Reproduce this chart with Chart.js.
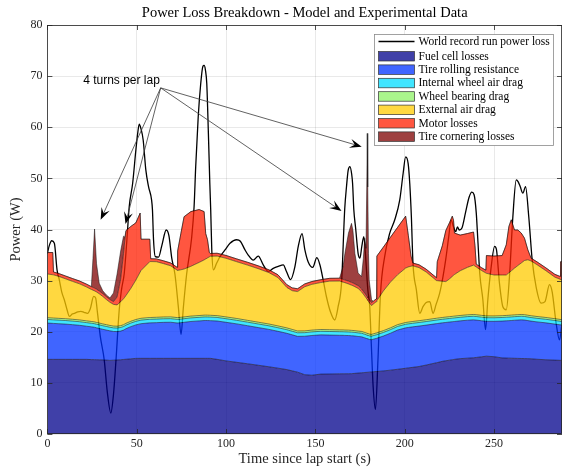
<!DOCTYPE html>
<html>
<head>
<meta charset="utf-8">
<script src="https://cdn.jsdelivr.net/npm/chart.js@4.4.1/dist/chart.umd.min.js"></script>
<style>
html,body{margin:0;padding:0;background:#fff;}
#c{display:block;}
</style>
</head>
<body>
<canvas id="c" width="563" height="468"></canvas>
<script>
// ---------------- DATA ----------------
const times = [
 0,3,3.4,6,10,14,18,22,24.6,25.5,
 26.4,27.5,29,31,33,35,37,39,41,42.6,
 43.3,44,46.7,49.5,51.9,52.4,57.3,57.8,61,65,
 69,72.6,72.9,74.7,76.5,80.3,84.9,87.7,88.6,89.6,
 90.6,91.2,95,100,106,112,118,124,129,134,
 137,140,144,148,153,158,163.5,165.5,166.5,168.5,
 170.2,171,172.1,173.9,175.8,176.8,177.6,178.3,178.8,179,
 179.3,179.7,180.1,181.4,182.3,184,184.4,188,192,196,
 200.5,202,203.5,204.5,208,212,217.8,218.2,221,223,
 225,226.6,227.3,227.8,231,235,238.5,239.3,240,243,
 245.4,245.7,250,254.5,256.8,258.3,259.6,261.4,263.3,265.2,
 267,268.9,270.7,274,279,284,286.9,287.2,288
];
const fuelCellLoss = [
 14.6,14.6,14.6,14.6,14.6,14.6,14.6,14.6,14.55,14.55,
 14.54,14.53,14.51,14.49,14.46,14.4,14.44,14.48,14.52,14.58,
 14.6,14.62,14.7,14.79,14.8,14.8,14.8,14.8,14.8,14.8,
 14.8,14.8,14.8,14.8,14.8,14.8,14.8,14.8,14.8,14.8,
 14.8,14.8,14.6,14.3,14.02,13.74,13.45,13.15,12.88,12.6,
 12.35,12.1,11.6,11.5,11.72,11.74,11.77,11.78,11.78,11.79,
 11.8,11.83,11.86,11.92,11.97,12.0,12.03,12.05,12.06,12.07,
 12.08,12.09,12.1,12.14,12.17,12.22,12.23,12.34,12.49,12.66,
 12.86,12.93,13.0,13.04,13.2,13.49,13.94,13.97,14.21,14.33,
 14.44,14.53,14.57,14.6,14.74,14.83,14.91,14.94,14.97,15.1,
 15.21,15.22,15.12,14.88,14.86,14.84,14.83,14.81,14.79,14.77,
 14.75,14.74,14.71,14.62,14.52,14.45,14.41,14.41,14.4
];
const rollingResistance = [
 7.1,7.04,7.03,6.98,6.9,6.79,6.66,6.48,6.41,6.37,
 6.33,6.24,6.14,5.99,5.87,5.78,5.62,5.55,5.62,5.74,
 5.86,5.98,6.3,6.55,6.74,6.78,6.94,6.94,6.98,7.04,
 7.06,6.92,6.91,6.97,7.05,7.21,7.32,7.39,7.4,7.39,
 7.38,7.37,7.5,7.55,7.52,7.44,7.37,7.31,7.21,7.1,
 7.05,7.0,7.52,7.77,7.67,7.61,7.54,7.52,7.5,7.47,
 7.42,7.37,7.3,7.16,7.04,6.9,6.78,6.67,6.6,6.57,
 6.52,6.47,6.4,6.3,6.36,6.48,6.51,6.82,7.22,7.68,
 7.9,7.91,7.91,7.92,7.91,7.81,7.65,7.64,7.53,7.49,
 7.46,7.43,7.42,7.41,7.39,7.43,7.42,7.36,7.31,7.05,
 6.85,6.83,6.92,7.21,7.28,7.33,7.37,7.44,7.5,7.56,
 7.54,7.44,7.37,7.31,7.22,7.05,6.95,6.93,6.9
];
const wheelAirDrag = [
 0.7,0.7,0.7,0.7,0.7,0.7,0.7,0.7,0.7,0.7,
 0.7,0.7,0.7,0.7,0.7,0.7,0.7,0.7,0.7,0.7,
 0.7,0.7,0.7,0.7,0.7,0.7,0.7,0.7,0.7,0.7,
 0.7,0.7,0.7,0.7,0.7,0.7,0.7,0.7,0.7,0.7,
 0.7,0.7,0.7,0.7,0.7,0.7,0.7,0.7,0.7,0.7,
 0.7,0.7,0.7,0.7,0.7,0.7,0.7,0.7,0.7,0.7,
 0.7,0.7,0.7,0.7,0.7,0.7,0.7,0.7,0.7,0.7,
 0.7,0.7,0.7,0.7,0.7,0.7,0.7,0.7,0.7,0.7,
 0.7,0.7,0.7,0.7,0.7,0.7,0.7,0.7,0.7,0.7,
 0.7,0.7,0.7,0.7,0.7,0.7,0.7,0.7,0.7,0.7,
 0.7,0.7,0.7,0.7,0.7,0.7,0.7,0.7,0.7,0.7,
 0.7,0.7,0.7,0.7,0.7,0.7,0.7,0.7,0.7
];
const bearingDrag = [
 0.35,0.35,0.35,0.35,0.35,0.35,0.35,0.35,0.35,0.35,
 0.35,0.35,0.35,0.35,0.35,0.35,0.35,0.35,0.35,0.35,
 0.35,0.35,0.35,0.35,0.35,0.35,0.35,0.35,0.35,0.35,
 0.35,0.35,0.35,0.35,0.35,0.35,0.35,0.35,0.35,0.35,
 0.35,0.35,0.35,0.35,0.35,0.35,0.35,0.35,0.35,0.35,
 0.35,0.35,0.35,0.35,0.35,0.35,0.35,0.35,0.35,0.35,
 0.35,0.35,0.35,0.35,0.35,0.35,0.35,0.35,0.35,0.35,
 0.35,0.35,0.35,0.35,0.35,0.35,0.35,0.35,0.35,0.35,
 0.35,0.35,0.35,0.35,0.35,0.35,0.35,0.35,0.35,0.35,
 0.35,0.35,0.35,0.35,0.35,0.35,0.35,0.35,0.35,0.35,
 0.35,0.35,0.35,0.35,0.35,0.35,0.35,0.35,0.35,0.35,
 0.35,0.35,0.35,0.35,0.35,0.35,0.35,0.35,0.35
];
const externalAirDrag = [
 8.55,8.46,8.45,8.25,7.82,7.42,7.06,6.61,6.26,6.16,
 6.07,5.96,5.73,5.37,4.92,4.53,4.24,4.17,4.68,5.08,
 5.24,5.45,6.43,7.71,9.07,9.35,10.92,10.94,10.87,10.43,
 9.99,9.28,9.25,9.3,9.37,9.74,10.39,10.81,10.98,11.2,
 11.41,11.54,11.65,11.47,11.1,10.81,10.47,10.05,9.46,7.91,
 7.58,7.71,8.63,8.95,9.19,9.5,9.56,9.35,9.27,9.04,
 8.84,8.75,8.59,8.34,7.77,7.41,7.13,6.88,6.68,6.6,
 6.49,6.32,6.17,5.64,5.81,6.12,6.28,7.76,8.95,9.76,
 10.65,10.79,10.85,10.88,10.38,9.33,7.36,7.33,7.09,6.94,
 7.38,7.81,8.0,8.13,8.74,9.27,9.65,9.49,9.34,8.77,
 8.38,8.33,8.01,7.96,7.91,8.31,8.66,9.13,9.61,10.07,
 10.59,10.85,10.71,10.14,9.15,8.13,7.86,7.85,7.8
];
const motorLoss = [
 4.2,4.35,0.55,0.55,0.55,0.55,0.55,0.55,0.55,0.55,
 0.55,0.55,0.55,0.55,0.55,0.55,0.55,1.55,4.43,8.85,
 11.05,12.7,12.12,11.2,11.54,6.12,4.39,0.55,0.55,0.55,
 0.55,0.55,3.79,7.08,10.23,10.7,10.34,9.45,4.97,3.56,
 0.86,0.55,0.55,0.55,0.55,0.55,0.55,0.55,0.55,0.55,
 0.55,0.55,0.55,0.55,0.55,0.55,0.55,0.55,0.55,0.55,
 0.55,0.55,0.55,0.55,0.55,0.55,0.55,0.55,0.55,0.55,
 0.55,0.55,0.55,0.55,0.55,0.55,8.73,8.57,8.77,9.27,
 10.14,6.12,1.99,0.55,0.55,0.55,0.55,3.71,6.92,9.99,
 10.97,11.78,10.76,8.11,6.98,6.62,6.47,3.96,0.55,0.55,
 0.55,3.47,3.7,3.8,5.9,9.07,9.99,7.47,6.95,5.85,
 4.37,1.92,0.55,0.55,0.55,0.55,0.55,3.46,3.65
];
const corneringLoss = [
 0,0,0,0,0,0,0,0,0,5.62,
 11.56,4.97,1.52,0.55,0.35,0.3,1.7,4.5,5.5,3.4,
 0.7,0,0,0,0,0,0,0,0,0,
 0,0,0,0,0,0,0,0,0,0,
 0,0,0,0,0,0,0,0,0,0,
 0,0,0,0,0,0,0,2.55,5.15,9.4,
 11.54,10.25,5.95,2.48,2.42,6.39,10.76,9.1,23.36,31.96,
 21.61,8.82,3.83,0.62,0,0,0,0,0,0,
 0,0,0,0,0,0,0,0,0,0,
 0,0,0,0,0,0,0,0,0,0,
 0,0,0,0,0,0,0,0,0,0,
 0,0,0,0,0,0,0,0,0
];
const recordTime = [
 0,1,2.4,3.9,5.4,6.7,8,9.5,11,12.3,
 14,15.1,17,18.8,20.5,22.5,24,25.9,27,28,
 29.6,31.8,33.5,35.5,37,38.4,40.2,41.5,43,44.5,
 45.8,47.7,49.5,50.6,51.4,52.3,53.6,55.1,56.6,58.3,
 58.8,59.4,60.4,62.2,64,66.5,68,69.6,71.4,73.3,
 74.8,76.1,77.9,80.7,82.1,83,84.4,85.8,87,87.7,
 88.4,89.2,90.1,90.9,91.4,92,92.9,94.7,96.6,99.4,
 102.2,105.9,108,110.6,112.4,115.2,118,120.8,123.6,126.4,
 129.2,132,133.8,136.1,138.5,140.4,142.5,144.1,145.9,148.5,
 150.8,152.5,154.3,156.2,158.5,160.8,162.7,164.6,166.4,167.4,
 168.3,169.3,170.3,170.8,171.5,172.5,173.9,174.9,176,177.1,
 178.2,179.3,180.4,181.4,182.3,183.6,185,186.4,188.8,191.6,
 194.4,197.2,199.1,200.5,201.9,202.8,203.7,204.6,206.5,208.4,
 210.2,212,214,215.8,217.5,219.5,221.4,223,224.5,226,
 227,228.5,229.5,230.5,232,234,236,237.5,238.8,240,
 241,242,243.7,245.2,246.5,248.2,250.3,251.3,253,254.9,
 256.8,258.6,260.5,262.4,263.5,264.6,266.1,267.6,269.4,271.3,
 273.5,276.3,278.5,281,282.5,284.7,286.6,288
];
const recordPower = [
 35.3,36.8,37.8,37.3,32.1,30.1,27.8,26.2,24.3,23.0,
 23.5,23.6,23.9,24.0,23.8,23.6,24.5,26.9,26.6,23.8,
 19.1,14.5,8.3,4.1,7.8,14.5,24.3,28.3,31.4,38.0,
 44.5,49.0,55.5,59.0,60.6,59.8,57.5,51.6,48.4,45.8,
 43.8,38.0,34.7,34.6,36.8,39.9,38.8,34.4,31.2,24.8,
 19.5,24.8,31.2,38.3,44.5,52.3,62.0,68.5,71.9,72.1,
 71.3,68.5,58.8,49.0,43.8,36.0,32.1,33.4,34.7,36.0,
 37.3,38.0,37.7,36.0,35.0,34.0,34.8,33.1,31.8,32.4,
 32.8,33.1,31.8,30.2,32.7,36.7,39.2,36.0,33.7,32.6,
 34.5,33.1,30.2,26.8,23.8,22.3,24.9,29.5,44.0,48.4,
 51.5,52.3,50.8,49.0,43.8,40.3,35.3,34.4,36.8,38.6,
 34.1,28.3,24.9,16.5,9.3,4.8,14.5,27.3,34.8,39.3,
 41.9,45.8,51.0,54.2,52.9,49.0,42.5,33.4,28.2,23.6,
 24.9,25.7,25.9,23.6,25.3,27.5,30.8,34.3,38.3,41.9,
 40.8,39.6,40.5,39.9,40.3,43.3,46.3,47.3,46.8,43.3,
 37.3,31.3,26.3,20.4,26.3,32.2,36.7,36.1,29.5,24.9,
 24.3,30.8,42.5,49.7,49.3,48.4,47.1,48.4,42.5,34.1,
 28.8,25.6,25.9,29.2,27.8,21.7,18.4,21.7
];
const seriesLabels = ['Fuel cell losses','Tire rolling resistance','Internal wheel air drag',
  'Wheel bearing drag','External air drag','Motor losses','Tire cornering losses'];
const recordLabel = 'World record run power loss';
const xTickValues = [0,50,100,150,200,250];
const yTickValues = [0,10,20,30,40,50,60,70,80];
const annotationText = '4 turns per lap';
const annotationTextAt = [20.0, 69.1];
const annotationOrigin = [63.4, 67.7];
const annotationTargets = [[29.8,41.9],[43.7,41.1],[164.6,43.6],[175.9,56.2]];

// ---------------- STYLE ----------------
const SERIF = '"Liberation Serif","Times New Roman",serif';
const fillColors = ['rgba(0,0,139,0.75)','rgba(0,50,255,0.75)','rgba(0,220,255,0.75)',
  'rgba(141,241,101,0.75)','rgba(255,203,0,0.75)','rgba(255,30,0,0.75)','rgba(125,0,0,0.75)'];
const seriesValues = [fuelCellLoss,rollingResistance,wheelAirDrag,bearingDrag,externalAirDrag,motorLoss,corneringLoss];

const areaDatasets = seriesValues.map((vals,i)=>({
  label: seriesLabels[i],
  data: times.map((t,k)=>({x:t, y:vals[k]})),
  stack: 'losses',
  fill: i===0 ? 'origin' : '-1',
  backgroundColor: fillColors[i],
  borderColor: 'rgba(0,0,0,0.8)',
  borderWidth: 0.6,
  pointRadius: 0,
  tension: 0
}));
const recordDataset = {
  label: recordLabel,
  data: recordTime.map((t,k)=>({x:t, y:recordPower[k]})),
  stack: 'record',
  fill: false,
  borderColor: '#000',
  borderWidth: 1.3,
  pointRadius: 0,
  cubicInterpolationMode: 'monotone'
};

const matlabAxes = {
  id: 'matlabAxes',
  afterDatasetsDraw(chart){
    const {ctx, chartArea:a, scales:{x,y}} = chart;
    ctx.save();
    ctx.strokeStyle = '#262626';
    ctx.lineWidth = 0.8;
    ctx.beginPath();
    xTickValues.forEach(v=>{
      const px = Math.round(x.getPixelForValue(v))+0.5;
      ctx.moveTo(px,a.bottom); ctx.lineTo(px,a.bottom-5);
      ctx.moveTo(px,a.top); ctx.lineTo(px,a.top+5);
    });
    yTickValues.forEach(v=>{
      const py = Math.round(y.getPixelForValue(v))+0.5;
      ctx.moveTo(a.left,py); ctx.lineTo(a.left+5,py);
      ctx.moveTo(a.right,py); ctx.lineTo(a.right-5,py);
    });
    ctx.stroke();
    ctx.strokeRect(Math.round(a.left)+0.5, Math.round(a.top)+0.5,
      Math.round(a.right)-Math.round(a.left)-1, Math.round(a.bottom)-Math.round(a.top)-1);
    ctx.restore();
  },
  afterDraw(chart){
    const {ctx, scales:{x,y}} = chart;
    ctx.save();
    // annotation arrows
    const ox = x.getPixelForValue(annotationOrigin[0]);
    const oy = y.getPixelForValue(annotationOrigin[1]);
    annotationTargets.forEach(([tx,ty])=>{
      const px = x.getPixelForValue(tx), py = y.getPixelForValue(ty);
      const dx = px-ox, dy = py-oy, len = Math.hypot(dx,dy);
      const ux = dx/len, uy = dy/len, nx = -uy, ny = ux;
      const L = 12, W = 9;
      ctx.strokeStyle = '#3a3a3a'; ctx.lineWidth = 0.8;
      ctx.beginPath(); ctx.moveTo(ox,oy); ctx.lineTo(px-ux*L*0.6, py-uy*L*0.6); ctx.stroke();
      ctx.fillStyle = '#000';
      ctx.beginPath();
      ctx.moveTo(px,py);
      ctx.lineTo(px-ux*L+nx*W/2, py-uy*L+ny*W/2);
      ctx.lineTo(px-ux*L*0.6, py-uy*L*0.6);
      ctx.lineTo(px-ux*L-nx*W/2, py-uy*L-ny*W/2);
      ctx.closePath(); ctx.fill();
    });
    ctx.font = '12px "Liberation Sans", Arial, sans-serif';
    ctx.fillStyle = '#000';
    ctx.textBaseline = 'middle';
    ctx.textAlign = 'left';
    ctx.fillText(annotationText, x.getPixelForValue(annotationTextAt[0]), y.getPixelForValue(annotationTextAt[1]));

    // legend box
    const bx = 374.5, by = 34.5, bw = 179, bh = 111;
    ctx.fillStyle = '#fff';
    ctx.fillRect(bx,by,bw,bh);
    ctx.strokeStyle = '#8a8a8a'; ctx.lineWidth = 0.8;
    ctx.strokeRect(bx,by,bw,bh);
    ctx.font = '11.5px ' + SERIF;
    const order = [7,0,1,2,3,4,5,6];
    order.forEach((di,row)=>{
      const ds = chart.data.datasets[di];
      const cy = row===0 ? 41.5 : 56 + (row-1)*13.4;
      if (di===7){
        ctx.strokeStyle = '#000'; ctx.lineWidth = 1.3;
        ctx.beginPath(); ctx.moveTo(378.5,cy); ctx.lineTo(414.5,cy); ctx.stroke();
      } else {
        ctx.fillStyle = ds.backgroundColor;
        ctx.fillRect(378.5, cy-4.5, 36, 9.5);
        ctx.strokeStyle = '#333'; ctx.lineWidth = 0.7;
        ctx.strokeRect(378.5, cy-4.5, 36, 9.5);
      }
      ctx.fillStyle = '#000';
      ctx.fillText(ds.label, 418.5, cy+0.5);
    });
    ctx.restore();
  }
};

new Chart(document.getElementById('c'), {
  type: 'line',
  data: { datasets: [...areaDatasets, recordDataset] },
  options: {
    responsive: false,
    animation: false,
    devicePixelRatio: 1,
    layout: { padding: { left: 0, right: 1, top: 0, bottom: 0 } },
    plugins: {
      legend: { display: false },
      tooltip: { enabled: false },
      title: {
        display: true,
        text: 'Power Loss Breakdown - Model and Experimental Data',
        fullSize: false,
        color: '#000',
        font: { family: SERIF, size: 14.5, weight: 'normal' },
        padding: { top: 4, bottom: 3.6 }
      }
    },
    scales: {
      x: {
        type: 'linear', min: 0, max: 288,
        ticks: { stepSize: 50, includeBounds: false, autoSkip: false, maxRotation: 0,
                 color: '#262626', font: { family: SERIF, size: 12 }, padding: 3 },
        grid: { color: 'rgba(38,38,38,0.13)', lineWidth: 0.8, drawTicks: false },
        border: { display: false },
        title: { display: true, text: 'Time since lap start (s)', color: '#262626',
                 font: { family: SERIF, size: 14.5 }, padding: { top: 0, bottom: 0 } },
        afterFit(s){ s.height = 34; }
      },
      y: {
        min: 0, max: 80, stacked: true,
        ticks: { stepSize: 10, color: '#262626', font: { family: SERIF, size: 12 }, padding: 5 },
        grid: { color: 'rgba(38,38,38,0.13)', lineWidth: 0.8, drawTicks: false },
        border: { display: false },
        title: { display: true, text: 'Power (W)', color: '#262626',
                 font: { family: SERIF, size: 14.5 }, padding: { top: 7, bottom: 0 } },
        afterFit(s){ s.width = 47.4; }
      }
    }
  },
  plugins: [matlabAxes]
});
</script>
</body>
</html>
